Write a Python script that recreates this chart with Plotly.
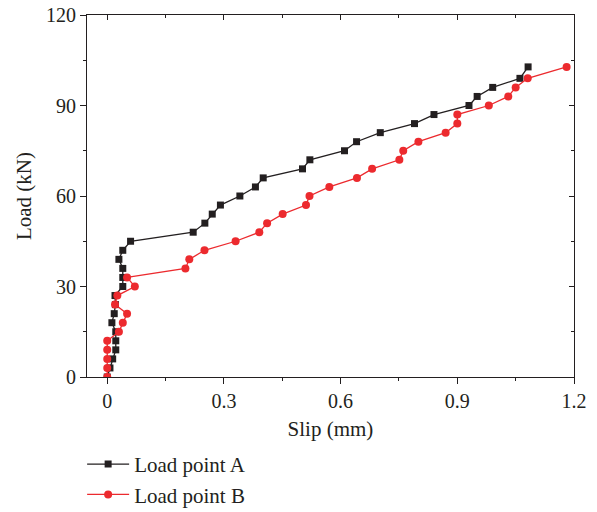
import plotly.graph_objects as go

load_a = [0, 3, 6, 9, 12, 15, 18, 21, 24, 27, 30, 33, 36, 39, 42, 45, 48, 51, 54, 57,
          60, 63, 66, 69, 72, 75, 78, 81, 84, 87, 90, 93, 96, 99, 102.8]
slip_a = [0, 0.007, 0.014, 0.022, 0.022, 0.022, 0.012, 0.018, 0.021, 0.020, 0.040, 0.040,
          0.040, 0.030, 0.040, 0.060, 0.221, 0.251, 0.270, 0.291, 0.341, 0.381, 0.401,
          0.502, 0.521, 0.610, 0.641, 0.702, 0.790, 0.840, 0.930, 0.951, 0.991, 1.061, 1.082]

load_b = [0, 3, 6, 9, 12, 15, 18, 21, 24, 27, 30, 33, 36, 39, 42, 45, 48, 51, 54, 57,
          60, 63, 66, 69, 72, 75, 78, 81, 84, 87, 90, 93, 96, 99, 102.8]
slip_b = [0, 0, 0, 0, 0, 0.030, 0.040, 0.051, 0.020, 0.026, 0.071, 0.051, 0.201, 0.211,
          0.250, 0.330, 0.391, 0.411, 0.451, 0.511, 0.520, 0.571, 0.642, 0.681, 0.751,
          0.761, 0.800, 0.870, 0.900, 0.900, 0.981, 1.031, 1.050, 1.081, 1.181]

x_ticks = [0, 0.3, 0.6, 0.9, 1.2]
x_tick_labels = ["0", "0.3", "0.6", "0.9", "1.2"]
y_ticks = [0, 30, 60, 90, 120]
y_tick_labels = ["0", "30", "60", "90", "120"]

FONT = "Liberation Serif"
BLACK = "#231f20"
RED = "#ec2a2e"

fig = go.Figure()
fig.add_trace(go.Scatter(x=slip_a, y=load_a, mode="lines+markers", name="Load point A",
                         line=dict(color=BLACK, width=1.3),
                         marker=dict(symbol="square", size=7, color=BLACK)))
fig.add_trace(go.Scatter(x=slip_b, y=load_b, mode="lines+markers", name="Load point B",
                         line=dict(color=RED, width=1.3),
                         marker=dict(symbol="circle", size=8, color=RED)))
# anchor trace for the mirrored (top/right) axes
fig.add_trace(go.Scatter(x=[None], y=[None], xaxis="x2", yaxis="y2", showlegend=False,
                         hoverinfo="skip", mode="lines"))

xr = [-0.052, 1.2]
yr = [0, 120]

fig.update_layout(
    width=597, height=512,
    margin=dict(l=87, r=23, t=15, b=135, autoexpand=False),
    paper_bgcolor="white", plot_bgcolor="white",
    font=dict(family=FONT, size=20, color="#231f20"),
    showlegend=True,
    legend=dict(x=-0.010, y=-0.185, xanchor="left", yanchor="top",
                font=dict(family=FONT, size=21), bgcolor="rgba(0,0,0,0)",
                tracegroupgap=0, itemwidth=42),
    xaxis=dict(range=xr, tickvals=x_ticks, ticktext=x_tick_labels, automargin=False,
               ticklabeloverflow="allow",
               showgrid=False, zeroline=False, showline=True, linecolor="#231f20",
               linewidth=1, ticks="outside", ticklen=6, tickcolor="#231f20",
               minor=dict(dtick=0.15, tick0=0, ticks="outside", ticklen=3, tickcolor="#231f20"),
               title=dict(text="Slip (mm)", standoff=10, font=dict(size=21)),
               tickfont=dict(size=20)),
    yaxis=dict(range=yr, tickvals=y_ticks, ticktext=y_tick_labels, automargin=False,
               ticklabeloverflow="allow",
               showgrid=False, zeroline=False, showline=True, linecolor="#231f20",
               linewidth=1, ticks="outside", ticklen=6, tickcolor="#231f20",
               minor=dict(dtick=15, tick0=0, ticks="outside", ticklen=3, tickcolor="#231f20"),
               title=dict(text="Load (kN)", standoff=8, font=dict(size=21)),
               tickfont=dict(size=20)),
    xaxis2=dict(range=xr, overlaying="x", side="top", tickvals=x_ticks, showticklabels=False,
                automargin=False, anchor="y2",
                showgrid=False, zeroline=False, showline=True, linecolor="#231f20", linewidth=1,
                ticks="inside", ticklen=5, tickcolor="#231f20",
                minor=dict(dtick=0.15, tick0=0, ticks="inside", ticklen=3, tickcolor="#231f20")),
    yaxis2=dict(range=yr, overlaying="y", side="right", tickvals=y_ticks, showticklabels=False,
                automargin=False, anchor="x2",
                showgrid=False, zeroline=False, showline=True, linecolor="#231f20", linewidth=1,
                ticks="inside", ticklen=5, tickcolor="#231f20",
                minor=dict(dtick=15, tick0=0, ticks="inside", ticklen=3, tickcolor="#231f20")),
)

# remove the default 8px page margin so the figure fills the window exactly
fig.write_html("out.html", config={"displayModeBar": False},
               post_script="document.body.style.margin='0';")
